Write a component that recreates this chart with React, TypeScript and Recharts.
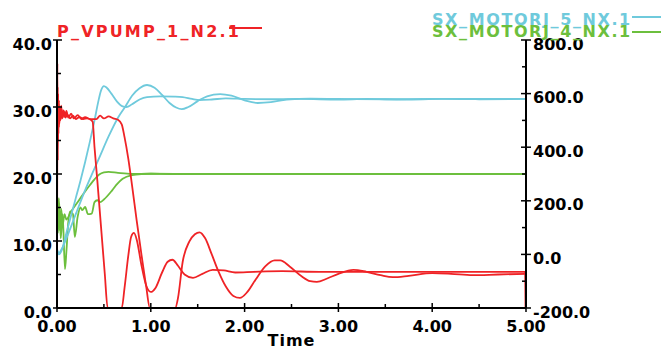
import { LineChart, Line, XAxis, YAxis } from 'recharts'

// time (s) / value pairs
const pumpEarly: [number, number][] = [
  [0, 0], [0.004, 36.5], [0.008, 22], [0.012, 32], [0.016, 26], [0.02, 31], [0.026, 27.5],
  [0.032, 30], [0.04, 28.2], [0.05, 29.6], [0.06, 28.4], [0.075, 29.3], [0.09, 28.4],
  [0.11, 28.9], [0.14, 28.3], [0.17, 28.7], [0.2, 28.2], [0.24, 28.5], [0.28, 28.2],
  [0.32, 28.3], [0.36, 28.1], [0.38, 27.8], [0.4, 24], [0.43, 19], [0.47, 12], [0.51, 5],
  [0.54, 0], [0.69, 0], [0.72, 3], [0.76, 7.8], [0.79, 10.6], [0.82, 11.2], [0.85, 10.2],
  [0.9, 6.4], [0.95, 3.4], [1.0, 2.4], [1.05, 3], [1.12, 5.3], [1.18, 6.9], [1.23, 7.2],
  [1.29, 6.3], [1.36, 5], [1.45, 4.5], [1.55, 5.1], [1.66, 5.7], [1.78, 5.6], [1.9, 5.3],
  [2.1, 5.4], [2.4, 5.5], [2.8, 5.4], [3.2, 5.4], [3.6, 5.4], [4.0, 5.4], [4.5, 5.4],
  [4.99, 5.4], [4.995, 0],
]

const pumpLate: [number, number][] = [
  [0, 0], [0.003, 30], [0.007, 33], [0.011, 25], [0.015, 30.5], [0.02, 27], [0.028, 29.8],
  [0.036, 28], [0.045, 30.2], [0.055, 28.3], [0.07, 29.5], [0.085, 28.5], [0.1, 29.4],
  [0.12, 28.4], [0.15, 29], [0.18, 28.3], [0.22, 28.8], [0.26, 28.2], [0.3, 28.5],
  [0.35, 28.2], [0.42, 28.2], [0.46, 28.7], [0.5, 28.3], [0.55, 28.6], [0.6, 28.3],
  [0.65, 28.1], [0.69, 27.4], [0.72, 25.5], [0.76, 22.3], [0.8, 18.3], [0.85, 13], [0.9, 8],
  [0.95, 3.3], [0.99, 0], [1.26, 0], [1.29, 1.5], [1.34, 6.9], [1.41, 9.9], [1.47, 11],
  [1.52, 11.3], [1.58, 10.4], [1.65, 8], [1.72, 5.5], [1.8, 3.2], [1.88, 1.8], [1.95, 1.5],
  [2.03, 2.4], [2.12, 4.3], [2.22, 6.2], [2.32, 7.1], [2.38, 7.1], [2.48, 6.2], [2.6, 4.8],
  [2.7, 4], [2.77, 3.9], [2.88, 4.4], [3.0, 5.1], [3.16, 5.7], [3.3, 5.4], [3.45, 4.9],
  [3.58, 4.6], [3.75, 4.8], [4.0, 5.2], [4.2, 5.1], [4.43, 4.9], [4.7, 5.0], [5, 5.1],
]

const motor5Fast: [number, number][] = [
  [0, 15], [0.02, 0], [0.05, 15], [0.1, 80], [0.15, 145], [0.2, 210], [0.25, 275], [0.3, 345],
  [0.35, 420], [0.4, 500], [0.44, 570], [0.47, 612], [0.5, 628], [0.53, 622], [0.58, 600],
  [0.64, 570], [0.7, 552], [0.74, 550], [0.8, 560], [0.88, 578], [0.96, 587], [1.1, 590],
  [1.25, 589], [1.34, 587], [1.44, 580], [1.52, 576], [1.65, 578], [1.8, 582], [2.0, 580],
  [2.3, 579], [2.6, 580], [3.0, 578], [3.3, 580], [3.7, 578], [4.1, 580], [4.5, 579], [5, 580],
]

const motor5Slow: [number, number][] = [
  [0, 20], [0.02, 5], [0.05, 20], [0.1, 60], [0.2, 150], [0.3, 240], [0.38, 305], [0.45, 360],
  [0.55, 440], [0.65, 510], [0.725, 550], [0.8, 592], [0.88, 620], [0.96, 632], [1.04, 622],
  [1.12, 595], [1.2, 565], [1.27, 548], [1.33, 542], [1.4, 550], [1.5, 572], [1.6, 590],
  [1.74, 598], [1.86, 592], [2.0, 575], [2.14, 565], [2.28, 568], [2.45, 578], [2.7, 581],
  [3.0, 580], [3.5, 579], [4.0, 580], [5, 580],
]

const motor4Smooth: [number, number][] = [
  [0, 220], [0.01, 120], [0.02, 210], [0.03, 90], [0.045, 170], [0.06, 110], [0.08, 150],
  [0.1, 130], [0.15, 160], [0.2, 185], [0.25, 210], [0.3, 235], [0.35, 258], [0.4, 280],
  [0.45, 298], [0.5, 306], [0.55, 308], [0.65, 304], [0.8, 300], [1.0, 301], [1.2, 300],
  [2.0, 300], [3.0, 300], [4.0, 300], [5, 300],
]

const motor4Wavy: [number, number][] = [
  [0, 200], [0.01, 80], [0.025, 190], [0.04, 60], [0.06, 150], [0.085, -55], [0.1, 10],
  [0.12, 120], [0.14, 160], [0.17, 150], [0.19, 65], [0.22, 140], [0.25, 175], [0.27, 165],
  [0.3, 177], [0.33, 150], [0.37, 152], [0.4, 195], [0.43, 202], [0.46, 195], [0.5, 205],
  [0.59, 240], [0.64, 262], [0.7, 282], [0.8, 296], [0.9, 300], [1.0, 301], [1.5, 300],
  [2.5, 300], [3.5, 300], [5, 300],
]

const timeTicks = [0, 0.5, 1, 1.5, 2, 2.5, 3, 3.5, 4, 4.5, 5]
const leftTicks = [0, 5, 10, 15, 20, 25, 30, 35, 40]
const rightTicks = [-200, -100, 0, 100, 200, 300, 400, 500, 600, 700, 800]

const RED = '#ef2326'
const CYAN = '#6fcadc'
const GREEN = '#6cbf3d'
const FONT = '"DejaVu Sans", sans-serif'

const rows = (pts: [number, number][]) => pts.map(([t, v]) => ({ t, v }))

const labelStyle = { fontFamily: FONT, fontWeight: 700, fontSize: 16, fill: '#000' }

function LeftTick({ x, y, payload }: any) {
  const major = payload.value % 10 === 0
  return (
    <g>
      <line x1={major ? x - 4 : x} x2={x + (major ? 5 : 4)} y1={y} y2={y} stroke="#000" strokeWidth={1.5} />
      {major && (
        <text x={x - 5} y={y + 4} textAnchor="end" dominantBaseline="central" style={labelStyle}>
          {payload.value.toFixed(1)}
        </text>
      )}
    </g>
  )
}

function RightTick({ x, y, payload }: any) {
  const major = payload.value % 200 === 0
  return (
    <g>
      <line x1={major ? x - 5 : x - 4} x2={major ? x + 5 : x} y1={y} y2={y} stroke="#000" strokeWidth={1.5} />
      {major && (
        <text x={x + 7} y={y + 4} textAnchor="start" dominantBaseline="central" style={labelStyle}>
          {payload.value.toFixed(1)}
        </text>
      )}
    </g>
  )
}

function BottomTick({ x, y, payload }: any) {
  const major = payload.value % 1 === 0
  return (
    <g>
      <line x1={x} x2={x} y1={y - (major ? 5 : 4)} y2={major ? y + 4 : y} stroke="#000" strokeWidth={1.5} />
      {major && (
        <text x={x} y={y + 18} textAnchor="middle" dominantBaseline="central" style={labelStyle}>
          {payload.value.toFixed(2)}
        </text>
      )}
    </g>
  )
}

function TopTick({ x, y, payload }: any) {
  const major = payload.value % 1 === 0
  return <line x1={x} x2={x} y1={y} y2={y + (major ? 5 : 4)} stroke="#000" strokeWidth={1.5} />
}

const legendText = { fontFamily: FONT, fontWeight: 700, fontSize: 16 }

export default function App() {
  const lineProps = { xAxisId: 'bottom', dataKey: 'v', type: 'monotone' as const, strokeWidth: 1.8, dot: false, isAnimationActive: false }
  return (
    <div style={{ position: 'relative', width: 661, height: 350, background: '#fff' }}>
      <style>{'body{margin:0}'}</style>
      <LineChart width={661} height={350} margin={{ top: 40, right: 0, bottom: 0, left: 0 }}>
        <XAxis
          xAxisId="bottom"
          dataKey="t"
          type="number"
          domain={[0, 5]}
          ticks={timeTicks}
          allowDataOverflow
          height={42}
          tickSize={0}
          tickMargin={0}
          axisLine={{ stroke: '#000', strokeWidth: 2 }}
          tick={<BottomTick />}
          label={{ value: 'Time', position: 'insideBottom', offset: 4, style: { ...labelStyle, letterSpacing: 1 } }}
        />
        <XAxis
          xAxisId="top"
          orientation="top"
          dataKey="t"
          type="number"
          domain={[0, 5]}
          ticks={timeTicks}
          height={0}
          tickSize={0}
          tickMargin={0}
          axisLine={{ stroke: '#000', strokeWidth: 2 }}
          tick={<TopTick />}
        />
        <YAxis
          yAxisId="left"
          domain={[0, 40]}
          ticks={leftTicks}
          allowDataOverflow
          width={57}
          tickSize={0}
          tickMargin={0}
          axisLine={{ stroke: '#000', strokeWidth: 2 }}
          tick={<LeftTick />}
        />
        <YAxis
          yAxisId="right"
          orientation="right"
          domain={[-200, 800]}
          ticks={rightTicks}
          allowDataOverflow
          width={135}
          tickSize={0}
          tickMargin={0}
          axisLine={{ stroke: '#000', strokeWidth: 2 }}
          tick={<RightTick />}
        />
        <Line {...lineProps} yAxisId="right" data={rows(motor4Smooth)} stroke={GREEN} />
        <Line {...lineProps} yAxisId="right" data={rows(motor4Wavy)} stroke={GREEN} />
        <Line {...lineProps} yAxisId="right" data={rows(motor5Fast)} stroke={CYAN} />
        <Line {...lineProps} yAxisId="right" data={rows(motor5Slow)} stroke={CYAN} />
        <Line {...lineProps} yAxisId="left" data={rows(pumpEarly)} stroke={RED} />
        <Line {...lineProps} yAxisId="left" data={rows(pumpLate)} stroke={RED} />
      </LineChart>
      <svg width={661} height={45} style={{ position: 'absolute', left: 0, top: 0, pointerEvents: 'none' }}>
        <text x={57} y={37} fill={RED} style={{ ...legendText, letterSpacing: 2.2 }}>P_VPUMP_1_N2.1</text>
        <line x1={229} x2={262} y1={28} y2={28} stroke={RED} strokeWidth={2} />
        <text x={432} y={25} fill={CYAN} style={{ ...legendText, letterSpacing: 1.6 }}>SX_MOTORJ_5_NX.1</text>
        <line x1={632} x2={661} y1={17} y2={17} stroke={CYAN} strokeWidth={2} />
        <text x={432} y={37} fill={GREEN} style={{ ...legendText, letterSpacing: 1.6 }}>SX_MOTORJ_4_NX.1</text>
        <line x1={632} x2={661} y1={32} y2={32} stroke={GREEN} strokeWidth={2} />
      </svg>
    </div>
  )
}
